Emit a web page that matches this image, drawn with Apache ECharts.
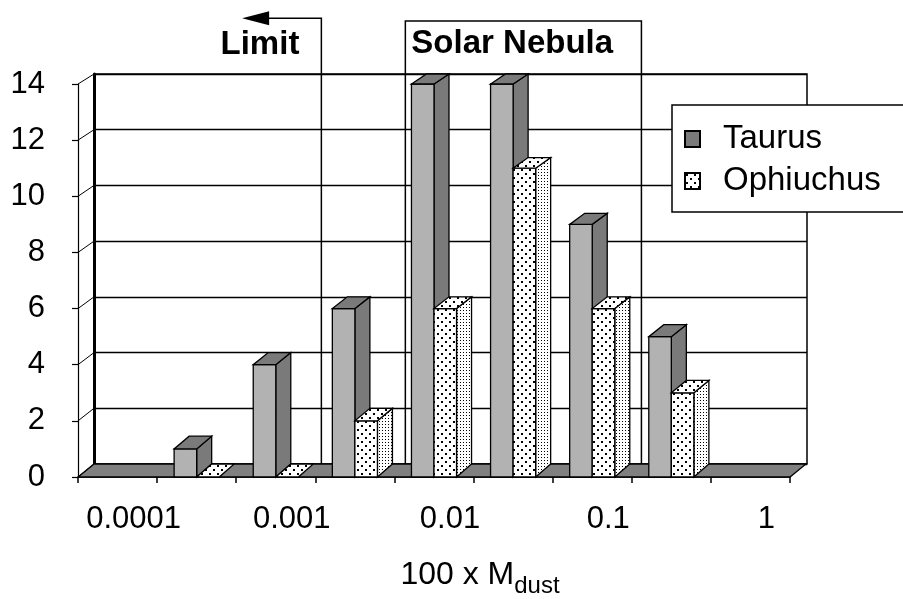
<!DOCTYPE html>
<html><head><meta charset="utf-8">
<script src="https://cdn.jsdelivr.net/npm/echarts@6/dist/echarts.min.js"></script>
<style>html,body{margin:0;padding:0;background:#fff}#c{width:903px;height:599px}</style>
</head><body><div id="c"></div>
<script>
// ---- data ----
const categories = ['0.0001', '', '0.001', '', '0.01', '', '0.1', '', '1'];
const taurus     = [null, 1, 4, 6, 14, 14, 9, 5, null];
const ophiuchus  = [null, 0, 0, 2, 6, 11, 6, 3, null];
const yTicks     = [0, 2, 4, 6, 8, 10, 12, 14];
const seriesNames = ['Taurus', 'Ophiuchus'];
const axisTitleMain = '100 x M';
const axisTitleSub = 'dust';
// annotations on the back wall (category units from the left edge, value units)
const limitLabel = 'Limit';
const limitAt = 2.87, limitArrowTo = 1.87, limitTop = 16.0;
const nebulaLabel = 'Solar Nebula';
const nebulaRange = [3.93, 6.91], nebulaTop = 15.9;

// ---- layout / style ----
const W = 903, H = 599;
const FRONT = {left: 78, right: 113, top: 84, bottom: 122};
const BACK  = {left: 94, right: 96, top: 74, bottom: 135};
const FONT = "'Liberation Sans', Arial, sans-serif";
const BAR_FRAC = 0.285, BAR_DX = 15;
const frontY0 = H - FRONT.bottom, frontH = H - FRONT.bottom - FRONT.top;
const backY0 = H - BACK.bottom, backH = H - BACK.bottom - BACK.top;
function backY(fy) { return backY0 - (frontY0 - fy) * backH / frontH; }

function makePattern(size, dots, r) {
  const c = document.createElement('canvas'); c.width = c.height = size;
  const g = c.getContext('2d'); g.fillStyle = '#fff'; g.fillRect(0, 0, size, size);
  g.fillStyle = '#000'; dots.forEach(function (d) { g.fillRect(d[0], d[1], r, r); });
  return c;
}
const patFront = {image: makePattern(8, [[1, 1], [5, 5]], 2), repeat: 'repeat'};
const patSide  = {image: makePattern(3, [[1, 1]], 1), repeat: 'repeat'};

const FACE = [
  {front: '#b2b2b2', side: '#7a7a7a', top: '#7a7a7a'},
  {front: patFront, side: patSide, top: patFront}
];
const STROKE = {stroke: '#000', lineWidth: 1.3};

function barItem(which) {
  return function (params, api) {
    const v = api.value(1);
    if (v == null || isNaN(v)) return null;
    const idx = api.value(0);
    const band = api.size([1, 0])[0];
    const p0 = api.coord([idx, 0]);
    const pt = api.coord([idx, v]);
    const w = band * BAR_FRAC;
    const x0 = which === 0 ? p0[0] - w : p0[0];
    const x1 = x0 + w;
    const y0 = p0[1], yt = pt[1];
    const by0 = backY(y0), byt = backY(yt);
    const f = FACE[which];
    const kids = [];
    if (v > 0) {
      kids.push({type: 'polygon', shape: {points: [[x1, yt], [x1 + BAR_DX, byt], [x1 + BAR_DX, by0], [x1, y0]]},
        style: Object.assign({fill: f.side}, STROKE)});
      kids.push({type: 'rect', shape: {x: x0, y: yt, width: w, height: y0 - yt},
        style: Object.assign({fill: f.front}, STROKE)});
    }
    kids.push({type: 'polygon', shape: {points: [[x0, yt], [x1, yt], [x1 + BAR_DX, byt], [x0 + BAR_DX, byt]]},
      style: Object.assign({fill: f.top}, STROKE)});
    return {type: 'group', children: kids};
  };
}

function floorItem(params, api) {
  const cs = params.coordSys;
  const dx = BACK.left - FRONT.left;
  const y = cs.y + cs.height;
  return {type: 'polygon', shape: {points: [[cs.x, y], [cs.x + cs.width, y], [cs.x + cs.width + dx, backY(y)], [cs.x + dx, backY(y)]]},
    style: Object.assign({fill: '#808080'}, STROKE)};
}

function wallTickItem(params, api) {
  const cs = params.coordSys;
  const dx = BACK.left - FRONT.left;
  const y = api.coord([0, api.value(0)])[1];
  return {type: 'line', shape: {x1: cs.x, y1: y, x2: cs.x + dx, y2: backY(y)},
    style: {stroke: '#000', lineWidth: 1}};
}

function annotItem(params, api) {
  const lt = api.coord([limitAt, limitTop]);
  const lb = api.coord([limitAt, 0]);
  const tip = api.coord([limitArrowTo, limitTop]);
  const nl = api.coord([nebulaRange[0], nebulaTop]);
  const nr = api.coord([nebulaRange[1], nebulaTop]);
  const nb = api.coord([nebulaRange[0], 0]);
  const ln = {stroke: '#000', lineWidth: 1.5, fill: null};
  const tf = {fill: '#000', font: "bold 33px " + FONT, verticalAlign: 'middle'};
  return {type: 'group', children: [
    {type: 'polyline', shape: {points: [[tip[0] + 26, lt[1]], [lt[0], lt[1]], [lb[0], lb[1]]]}, style: ln},
    {type: 'polygon', shape: {points: [[tip[0], lt[1]], [tip[0] + 27, lt[1] - 7], [tip[0] + 27, lt[1] + 7]]}, style: {fill: '#000'}},
    {type: 'polyline', shape: {points: [[nl[0], nb[1]], [nl[0], nl[1]], [nr[0], nr[1]], [nr[0], nb[1]]]}, style: ln},
    {type: 'text', style: Object.assign({text: limitLabel, x: lt[0] - 22, y: lt[1] + 27, align: 'right'}, tf)},
    {type: 'text', style: Object.assign({text: nebulaLabel, x: nl[0] + 6, y: nl[1] + 23, align: 'left'}, tf)}
  ]};
}

const chart = echarts.init(document.getElementById('c'), null, {renderer: 'canvas'});
chart.setOption({
  animation: false,
  backgroundColor: '#fff',
  textStyle: {fontFamily: FONT},
  legend: {
    data: seriesNames, orient: 'vertical', left: 672, top: 105,
    backgroundColor: '#fff', borderColor: '#000', borderWidth: 1.5, borderRadius: 0,
    padding: [17, 40, 14, 12], itemGap: 8, itemWidth: 15, itemHeight: 16, icon: 'rect',
    textStyle: {fontSize: 33, color: '#000', fontFamily: FONT, lineHeight: 34, padding: [0, 0, 0, 18]},
    selectedMode: false
  },
  grid: [
    Object.assign({show: false, outerBoundsMode: 'none', containLabel: false}, FRONT),
    Object.assign({show: true, backgroundColor: '#fff', borderColor: '#000', borderWidth: 1.5, outerBoundsMode: 'none', containLabel: false}, BACK)
  ],
  xAxis: [{
    gridIndex: 0, type: 'category', data: categories, boundaryGap: true,
    axisLine: {show: true, lineStyle: {color: '#000', width: 1.5}},
    axisTick: {show: true, interval: 0, length: 6, lineStyle: {color: '#000', width: 1.5}},
    axisLabel: {interval: 0, margin: 27, fontSize: 31, color: '#000', fontFamily: FONT, padding: [0, 0, 0, 32]},
    splitLine: {show: false},
    name: '{m|' + axisTitleMain + '}{s|' + axisTitleSub + '}',
    nameLocation: 'middle', nameGap: 82,
    nameTextStyle: {padding: [0, 0, 0, 92], rich: {
      m: {fontSize: 32, color: '#000', fontFamily: FONT, lineHeight: 32, verticalAlign: 'top'},
      s: {fontSize: 24, color: '#000', fontFamily: FONT, lineHeight: 24, padding: [15, 0, 0, 0], verticalAlign: 'top'}
    }}
  }, {
    gridIndex: 1, type: 'value', min: 0, max: categories.length, show: false
  }],
  yAxis: [{
    gridIndex: 0, type: 'value', min: 0, max: 14, interval: 2,
    axisLine: {show: true, lineStyle: {color: '#000', width: 1.2}},
    axisTick: {show: true, length: 6, lineStyle: {color: '#000', width: 1.2}},
    axisLabel: {margin: 33, fontSize: 31, color: '#000', fontFamily: FONT, padding: [0, 0, 10, 0]},
    splitLine: {show: false}
  }, {
    gridIndex: 1, type: 'value', min: 0, max: 14, interval: 2,
    axisLine: {show: true, lineStyle: {color: '#000', width: 3}},
    axisTick: {show: false}, axisLabel: {show: false},
    splitLine: {show: true, lineStyle: {color: '#000', width: 1.3}}
  }],
  series: [
    {type: 'custom', name: 'floor', xAxisIndex: 0, yAxisIndex: 0, silent: true, clip: false,
      data: [[0]], renderItem: floorItem, z: 1},
    {type: 'custom', name: 'wall', xAxisIndex: 0, yAxisIndex: 0, silent: true, clip: false,
      data: yTicks.map(function (t) { return [t]; }), encode: {y: 0}, renderItem: wallTickItem, z: 1},
    {type: 'custom', name: seriesNames[0], xAxisIndex: 0, yAxisIndex: 0, silent: true, clip: false,
      itemStyle: {color: '#7a7a7a', borderColor: '#000', borderWidth: 1.5},
      encode: {x: 0, y: 1}, data: taurus.map(function (v, i) { return [i, v]; }), renderItem: barItem(0), z: 3},
    {type: 'custom', name: seriesNames[1], xAxisIndex: 0, yAxisIndex: 0, silent: true, clip: false,
      itemStyle: {color: patFront, borderColor: '#000', borderWidth: 1.5},
      encode: {x: 0, y: 1}, data: ophiuchus.map(function (v, i) { return [i, v]; }), renderItem: barItem(1), z: 4},
    {type: 'custom', name: 'annotations', xAxisIndex: 1, yAxisIndex: 1, silent: true, clip: false,
      data: [[0, 0]], renderItem: annotItem, z: 2}
  ]
});
</script></body></html>
